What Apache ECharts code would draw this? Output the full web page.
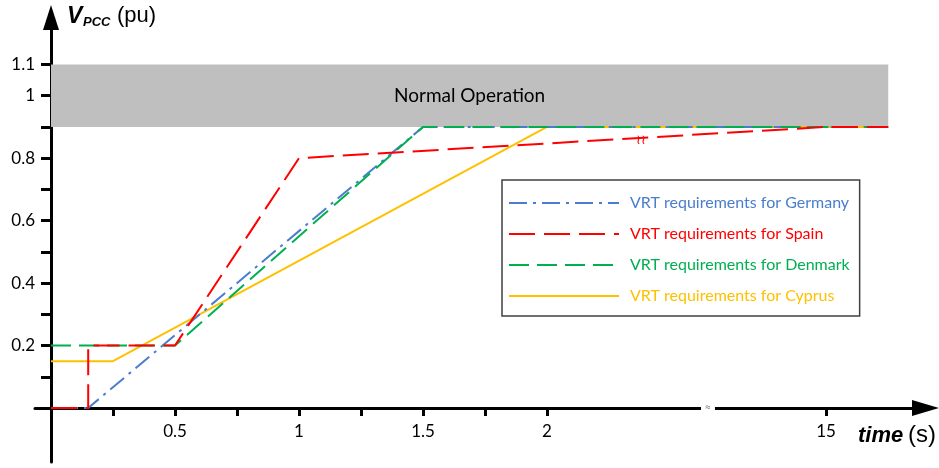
<!DOCTYPE html>
<html>
<head>
<meta charset="utf-8">
<script src="https://cdn.jsdelivr.net/npm/echarts@6/dist/echarts.min.js"></script>
<style>
  html, body { margin: 0; padding: 0; background: #fff; }
  #chart { width: 939px; height: 468px; }
</style>
</head>
<body>
<div id="chart"></div>
<script>
// Voltage ride-through envelopes: PCC voltage (pu) against time (s)
const germanyTime = [0, 0.15, 1.5, 17.9];
const germanyVolt = [0, 0, 0.9, 0.9];
const spainTime = [0, 0.15, 0.15, 0.5, 1, 15, 17.9];
const spainVolt = [0, 0, 0.2, 0.2, 0.8, 0.9, 0.9];
const denmarkTime = [0, 0.5, 1.5, 17.9];
const denmarkVolt = [0.2, 0.2, 0.9, 0.9];
const cyprusTime = [0, 0.25, 2, 17.9];
const cyprusVolt = [0.15, 0.15, 0.9, 0.9];

const seriesNames = [
  'VRT requirements for Germany',
  'VRT requirements for Spain',
  'VRT requirements for Denmark',
  'VRT requirements for Cyprus'
];

// Normal operation band
const bandTime = [0, 17.9];
const bandVolt = [0.9, 1.1];
const bandText = 'Normal Operation';

// Axis ticks and labels
const xTickTimes = [0.25, 0.5, 0.75, 1, 1.25, 1.5, 1.75, 2, 15];
const xLabelTimes = [0.5, 1, 1.5, 2, 15];
const yTickValues = [0.1, 0.2, 0.3, 0.4, 0.5, 0.6, 0.7, 0.8, 0.9, 1, 1.1];
const yLabelValues = [0.2, 0.4, 0.6, 0.8, 1, 1.1];

// Broken time axis: linear up to 2 s, then the stretch 2 s .. 15 s is squeezed
const LINEAR_END = 2, FAR_TIME = 15, FAR_POS = 3.125;
const SQUEEZE = (FAR_POS - LINEAR_END) / (FAR_TIME - LINEAR_END);
function toAxis(t) { return t <= LINEAR_END ? t : LINEAR_END + (t - LINEAR_END) * SQUEEZE; }
function fromAxis(x) { return x <= LINEAR_END ? x : LINEAR_END + (x - LINEAR_END) / SQUEEZE; }
function pairs(ts, vs) { return ts.map((t, i) => [toAxis(t), vs[i]]); }

// value of a polyline at a given axis position
function valueAt(ts, vs, t) {
  const x = toAxis(t);
  for (let i = 1; i < ts.length; i++) {
    const x0 = toAxis(ts[i - 1]), x1 = toAxis(ts[i]);
    if (x >= x0 && x <= x1 && x1 > x0) {
      return vs[i - 1] + (vs[i] - vs[i - 1]) * (x - x0) / (x1 - x0);
    }
  }
  return vs[vs.length - 1];
}

const AXIS_BREAK_TIME = 9.5;
const SPAIN_BREAK_TIME = 6.4;

const colors = {
  germany: '#4A7DCE',
  spain: '#FF0000',
  denmark: '#00B050',
  cyprus: '#FFC000'
};

const textFont = 'Lato';
const titleFont = '"Liberation Sans", Arial, sans-serif';
const axisLineStyle = { color: '#000', width: 3 };

function stubAxis(gridIndex, position) {
  return {
    type: 'value', gridIndex, position, min: 0, max: 1,
    axisLine: { show: true, onZero: false, lineStyle: axisLineStyle },
    axisTick: { show: false }, axisLabel: { show: false }, splitLine: { show: false }
  };
}
function hiddenAxis(gridIndex) {
  return { type: 'value', gridIndex, min: 0, max: 1, show: false };
}

const chart = echarts.init(document.getElementById('chart'), null, { renderer: 'canvas' });

chart.setOption({
  animation: false,
  backgroundColor: '#fff',
  grid: [
    // main plotting area: the axes cross at the origin
    { left: 51, right: 13.5, top: 17.5, bottom: 60, containLabel: false, outerBoundsMode: 'none' },
    // vertical axis continues below the time axis
    { left: 51, width: 10, top: 408, bottom: 6, containLabel: false, outerBoundsMode: 'none' },
    // time axis continues left of the voltage axis
    { left: 35, width: 16, top: 398, bottom: 60, containLabel: false, outerBoundsMode: 'none' }
  ],
  xAxis: [
    {
      type: 'value',
      gridIndex: 0,
      min: 0,
      max: 874.5 / 248,
      axisLine: {
        onZero: false,
        symbol: ['none', 'triangle'],
        symbolSize: [16, 27],
        lineStyle: axisLineStyle
      },
      axisTick: {
        show: true,
        length: 8,
        customValues: xTickTimes.map(toAxis),
        lineStyle: axisLineStyle
      },
      axisLabel: {
        show: true,
        margin: 15,
        customValues: xLabelTimes.map(toAxis),
        formatter: v => String(Math.round(fromAxis(v) * 100) / 100),
        fontFamily: textFont,
        fontSize: 17,
        color: '#000'
      },
      splitLine: { show: false }
    },
    hiddenAxis(1),
    stubAxis(2, 'bottom')
  ],
  yAxis: [
    {
      type: 'value',
      gridIndex: 0,
      min: 0,
      max: 390.5 / 312.3,
      axisLine: {
        onZero: false,
        symbol: ['none', 'triangle'],
        symbolSize: [16, 25],
        lineStyle: axisLineStyle
      },
      axisTick: {
        show: true,
        length: 10,
        customValues: yTickValues,
        lineStyle: axisLineStyle
      },
      axisLabel: {
        show: true,
        margin: 16,
        customValues: yLabelValues,
        formatter: v => String(Math.round(v * 10) / 10),
        fontFamily: textFont,
        fontSize: 17,
        color: '#000'
      },
      splitLine: { show: false }
    },
    stubAxis(1, 'left'),
    hiddenAxis(2)
  ],
  legend: {
    orient: 'vertical',
    left: 502,
    top: 180,
    itemWidth: 110,
    itemHeight: 14,
    itemGap: 15,
    padding: [15, 10, 12, 6],
    borderColor: '#404040',
    borderWidth: 1.5,
    backgroundColor: '#fff',
    itemStyle: { color: 'rgba(0,0,0,0)', borderWidth: 0 },
    data: [
      { name: seriesNames[0], textStyle: { color: colors.germany } },
      { name: seriesNames[1], textStyle: { color: colors.spain } },
      { name: seriesNames[2], textStyle: { color: colors.denmark } },
      { name: seriesNames[3], textStyle: { color: colors.cyprus } }
    ],
    textStyle: { fontFamily: textFont, fontSize: 16, padding: [0, 0, 0, 6] }
  },
  graphic: [
    { type: 'text', left: 67, top: 5, style: { text: 'V', font: 'italic bold 23px ' + titleFont, fill: '#000' } },
    { type: 'text', left: 83, top: 16, style: { text: 'PCC', font: 'italic bold 13px ' + titleFont, fill: '#000' } },
    { type: 'text', left: 117, top: 5, style: { text: '(pu)', font: '22px ' + titleFont, fill: '#000' } },
    { type: 'text', left: 858, top: 425, style: { text: 'time', font: 'italic bold 22px ' + titleFont, fill: '#000' } },
    { type: 'text', left: 908, top: 423, style: { text: '(s)', font: '24px ' + titleFont, fill: '#000' } }
  ],
  series: [
    {
      // shaded band of normal operation and the axis break marker
      type: 'line',
      name: 'band',
      data: [],
      z: 1,
      silent: true,
      markArea: {
        silent: true,
        itemStyle: { color: '#BFBFBF', opacity: 1 },
        label: {
          show: true,
          position: 'inside',
          formatter: bandText,
          fontFamily: textFont,
          fontSize: 19,
          color: '#000'
        },
        data: [[
          { coord: [toAxis(bandTime[0]), bandVolt[0]] },
          { coord: [toAxis(bandTime[1]), bandVolt[1]] }
        ]]
      },
      markPoint: {
        silent: true,
        data: [{
          coord: [toAxis(AXIS_BREAK_TIME), 0],
          symbol: 'rect',
          symbolSize: [14, 5],
          itemStyle: { color: '#fff' },
          label: {
            show: true,
            position: 'inside',
            formatter: '≈',
            fontSize: 9,
            color: '#555'
          }
        }]
      }
    },
    {
      type: 'line',
      name: seriesNames[3],
      data: pairs(cyprusTime, cyprusVolt),
      symbol: 'none',
      clip: false,
      z: 2,
      color: colors.cyprus,
      lineStyle: { color: colors.cyprus, width: 2, type: 'solid' }
    },
    {
      type: 'line',
      name: seriesNames[0],
      data: pairs(germanyTime, germanyVolt),
      symbol: 'none',
      clip: false,
      z: 3,
      color: colors.germany,
      lineStyle: { color: colors.germany, width: 2, type: [18, 6, 3, 6] }
    },
    {
      type: 'line',
      name: seriesNames[2],
      data: pairs(denmarkTime, denmarkVolt),
      symbol: 'none',
      clip: false,
      z: 4,
      color: colors.denmark,
      lineStyle: { color: colors.denmark, width: 2, type: [20, 8] }
    },
    {
      type: 'line',
      name: seriesNames[1],
      data: pairs(spainTime, spainVolt),
      symbol: 'none',
      clip: false,
      z: 5,
      color: colors.spain,
      lineStyle: { color: colors.spain, width: 2, type: [26, 9] },
      markPoint: {
        silent: true,
        data: [{
          coord: [toAxis(SPAIN_BREAK_TIME), valueAt(spainTime, spainVolt, SPAIN_BREAK_TIME)],
          symbol: 'rect',
          symbolSize: [1, 1],
          itemStyle: { color: 'rgba(0,0,0,0)' },
          label: {
            show: true,
            position: 'inside',
            offset: [0, 3],
            formatter: '≀≀',
            fontSize: 13,
            color: colors.spain
          }
        }]
      }
    }
  ]
});
</script>
</body>
</html>
